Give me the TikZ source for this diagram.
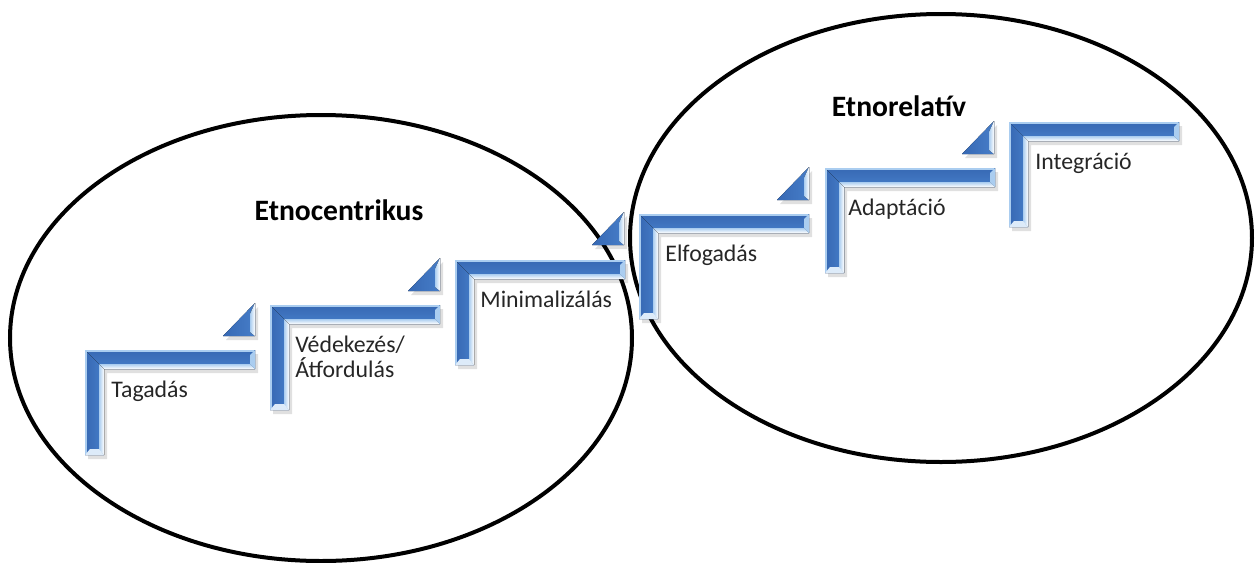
\documentclass[tikz,border=0pt]{standalone}
\usepackage{fontspec}
\setmainfont{Carlito}

\definecolor{stepblue}{RGB}{70,125,200}
\definecolor{stepdark}{RGB}{55,105,180}
\definecolor{steplight}{RGB}{170,205,240}
\definecolor{labelgray}{RGB}{38,38,38}

\begin{document}
\begin{tikzpicture}[x=0.5pt,y=-0.5pt,
    ring/.style={draw=black,line width=2pt},
    stair/.pic={
      % shadow
      \fill[black,opacity=.12] (3,4) -- (173,4) -- (173,23) -- (22,23) -- (22,109) -- (3,109) -- cycle;
      % body
      \fill[top color=stepdark,bottom color=stepblue]
        (0,0) -- (170,0) -- (170,19) -- (19,19) -- cycle;
      \fill[left color=stepdark,right color=stepblue]
        (0,0) -- (19,19) -- (19,105) -- (0,105) -- cycle;
      % inner bevel
      \fill[top color=steplight,bottom color=white]
        (14,14) -- (165,14) -- (170,19) -- (19,19) -- cycle;
      \fill[left color=steplight,right color=white]
        (14,14) -- (19,19) -- (19,105) -- (14,100) -- cycle;
      % outer edge and ends
      \draw[steplight,line width=.6pt] (1,104) -- (1,1) -- (169,1);
      \fill[steplight] (170,0) -- (170,19) -- (165,14) -- (165,5) -- cycle;
      \fill[white!60!steplight] (0,105) -- (19,105) -- (14,99) -- (5,99) -- cycle;
    },
    ramp/.pic={
      \fill[black,opacity=.12] (3,4) -- (3,-29) -- (-29,4) -- cycle;
      \fill[left color=stepdark,right color=stepblue] (0,0) -- (0,-33) -- (-32,0) -- cycle;
      \fill[left color=steplight,right color=white] (0,0) -- (0,-33) -- (-5,-22) -- (-5,-4) -- cycle;
    }]

      \useasboundingbox (0,0) rectangle (1255,563);

      % the two groups
      \draw[ring] (321,338) ellipse [x radius=155.5pt,y radius=111.5pt];
      \draw[ring] (941,238) ellipse [x radius=155.5pt,y radius=112pt];

      % steps
      \pic at (85,350)   {stair};
      \pic at (270,305)  {stair};
      \pic at (455,260)  {stair};
      \pic at (639,214)  {stair};
      \pic at (825,168)  {stair};
      \pic at (1009,122) {stair};

      \pic at (255,336) {ramp};
      \pic at (440,291) {ramp};
      \pic at (624,245) {ramp};
      \pic at (809,200) {ramp};
      \pic at (994,154) {ramp};

      \begin{scope}[every node/.style={anchor=base west,inner sep=0pt,align=left,
          text=labelgray,font=\fontsize{11.9pt}{12.5pt}\selectfont}]
        \node (tag) at (111,397)  {Tagadás};
        \node (ved) at (295,377)  {Védekezés/\\Átfordulás};
        \node (min) at (480,307)  {Minimalizálás};
        \node (elf) at (665,261)  {Elfogadás};
        \node (ada) at (848,215)  {Adaptáció};
        \node (int) at (1035,169) {Integráció};
      \end{scope}

      \begin{scope}[every node/.style={anchor=base,inner sep=0pt,
          font=\fontsize{14.8pt}{16pt}\selectfont\bfseries}]
        \node (centr) at (339,220) {Etnocentrikus};
        \node (relat) at (899,116) {Etnorelatív};
      \end{scope}

    \end{tikzpicture}
\end{document}
